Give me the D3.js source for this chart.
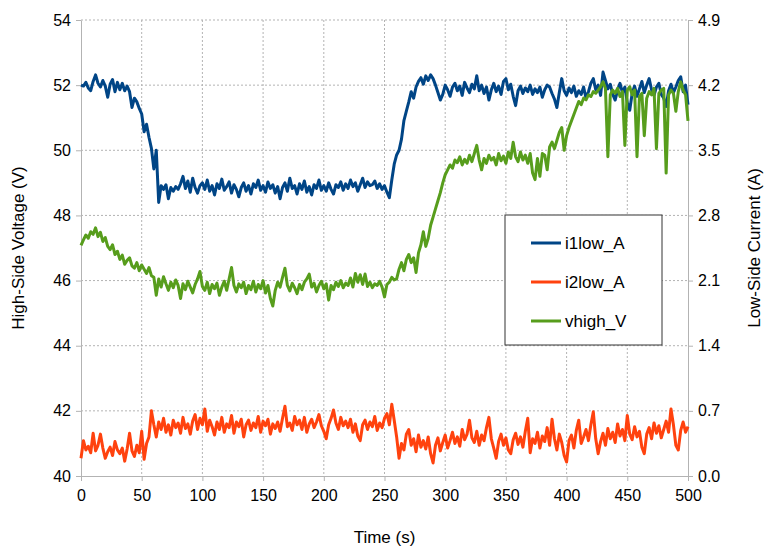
<!DOCTYPE html>
<meta charset="utf-8">
<style>
    body { margin: 0; background: #fff; }
    text { font-family: "Liberation Sans", Arial, sans-serif; fill: #000; }
    .grid line { stroke: #b3b3b3; stroke-dasharray: 2,2; }
    .axis path, .axis line { stroke: #b3b3b3; }
</style>

<svg width="764" height="549"></svg>

<script src="https://d3js.org/d3.v7.min.js"></script>

<script>
    // sample time, one reading every 2 s
    var times = d3.range(0, 501, 2);

    var i1low_A = [
        4.20, 4.19, 4.23, 4.17, 4.14, 4.24, 4.31, 4.22, 4.18, 4.25,
        4.19, 4.07, 4.21, 4.26, 4.13, 4.23, 4.15, 4.22, 4.14, 4.19,
        4.13, 3.96, 4.06, 4.02, 3.95, 3.89, 3.70, 3.78, 3.64, 3.52,
        3.30, 3.50, 2.94, 3.12, 3.08, 3.13, 2.98, 3.10, 3.06, 3.11,
        3.08, 3.14, 3.22, 3.09, 3.17, 3.05, 3.20, 3.10, 3.04, 3.12,
        3.15, 3.08, 3.18, 3.06, 3.12, 3.02, 3.14, 3.09, 3.19, 3.07,
        3.11, 3.16, 3.04, 3.13, 3.08, 3.00, 3.10, 3.15, 3.06, 3.12,
        3.03, 3.14, 3.10, 3.18, 3.07, 3.12, 3.05, 3.16, 3.09, 3.13,
        3.04, 3.11, 2.98, 3.10, 3.15, 3.06, 3.20, 3.09, 3.12, 3.03,
        3.14, 3.08, 3.17, 3.05, 3.11, 3.02, 3.13, 3.09, 3.18, 3.07,
        3.12, 3.06, 3.15, 3.08, 3.03, 3.13, 3.10, 3.16, 3.07, 3.14,
        3.09, 3.18, 3.11, 3.15, 3.06, 3.13, 3.20, 3.10, 3.16, 3.12,
        3.13, 3.17, 3.09, 3.14, 3.08, 3.12, 3.05, 2.99, 3.18, 3.35,
        3.45, 3.50, 3.62, 3.82, 3.92, 4.02, 4.13, 4.06, 4.18, 4.24,
        4.28, 4.21, 4.30, 4.25, 4.31, 4.27, 4.20, 4.12, 4.04, 4.10,
        4.20, 4.15, 4.08, 4.18, 4.22, 4.14, 4.19, 4.09, 4.23, 4.17,
        4.12, 4.21, 4.16, 4.30, 4.14, 4.20, 4.11, 4.18, 4.04, 4.15,
        4.22, 4.13, 4.19, 4.10, 4.24, 4.27, 4.15, 4.21, 4.08, 3.98,
        4.14, 4.19, 4.11, 4.17, 4.13, 4.20, 4.10, 4.16, 4.12, 4.18,
        4.07, 4.15, 4.20, 4.18, 4.11, 4.05, 3.96, 4.12, 4.27, 4.14,
        4.09, 4.17, 4.12, 4.19, 4.08, 4.14, 4.10, 4.18, 4.06, 4.13,
        4.22, 4.27, 4.15, 4.20, 4.09, 4.34, 4.25, 4.16, 4.21, 4.10,
        4.04, 4.15, 4.22, 4.12, 4.18, 4.01, 3.93, 4.11, 4.19, 4.08,
        4.16, 4.24, 4.12, 4.20, 4.27, 4.15, 4.09, 4.18, 4.22, 4.10,
        4.06, 3.97, 4.14, 4.21, 4.12, 4.18, 4.25, 4.29, 4.13, 4.20,
        3.99
    ];

    var i2low_A = [
        0.19, 0.38, 0.28, 0.32, 0.25, 0.46, 0.27, 0.33, 0.45, 0.30,
        0.19, 0.26, 0.31, 0.22, 0.37, 0.28, 0.24, 0.30, 0.16, 0.29,
        0.46, 0.27, 0.21, 0.33, 0.25, 0.48, 0.18, 0.35, 0.42, 0.70,
        0.55, 0.42, 0.58, 0.50, 0.62, 0.47, 0.55, 0.44, 0.60, 0.52,
        0.57, 0.46, 0.63, 0.51, 0.56, 0.45, 0.59, 0.66, 0.50, 0.62,
        0.55, 0.72, 0.48, 0.60, 0.53, 0.44, 0.58, 0.50, 0.63, 0.47,
        0.56, 0.52, 0.65, 0.46, 0.58, 0.53, 0.61, 0.42, 0.55, 0.60,
        0.49, 0.57, 0.52, 0.64, 0.47, 0.59, 0.54, 0.61, 0.45, 0.56,
        0.51, 0.58, 0.48, 0.62, 0.75, 0.53, 0.57, 0.49, 0.64, 0.55,
        0.60, 0.50, 0.63, 0.47, 0.56, 0.61, 0.52, 0.58, 0.66, 0.54,
        0.48, 0.40, 0.55, 0.62, 0.71, 0.57, 0.50, 0.63, 0.54, 0.59,
        0.52, 0.61, 0.47, 0.56, 0.43, 0.38, 0.55, 0.60, 0.50, 0.58,
        0.53, 0.64, 0.49, 0.57, 0.52, 0.62, 0.67, 0.55, 0.77, 0.60,
        0.42, 0.19, 0.35, 0.28, 0.45, 0.50, 0.33, 0.40, 0.26, 0.44,
        0.31, 0.38, 0.29, 0.42, 0.24, 0.14, 0.33, 0.41, 0.27, 0.36,
        0.44, 0.30, 0.38, 0.47, 0.35, 0.42, 0.32, 0.50, 0.39, 0.45,
        0.60, 0.41, 0.36, 0.48, 0.33, 0.44, 0.38, 0.52, 0.63, 0.40,
        0.30, 0.19, 0.37, 0.45, 0.33, 0.41, 0.28, 0.24, 0.39, 0.46,
        0.34, 0.42, 0.31, 0.48, 0.62, 0.25, 0.40, 0.35, 0.47, 0.30,
        0.43, 0.37, 0.52, 0.33, 0.61, 0.40, 0.28, 0.45, 0.36, 0.22,
        0.15, 0.38, 0.44, 0.30, 0.49, 0.60, 0.35, 0.42, 0.50, 0.38,
        0.55, 0.69, 0.40, 0.24, 0.37, 0.46, 0.33, 0.51, 0.40, 0.47,
        0.36, 0.56, 0.43, 0.50, 0.38, 0.65, 0.45, 0.39, 0.53, 0.42,
        0.48, 0.31, 0.24, 0.45, 0.52, 0.40, 0.57, 0.46, 0.54, 0.41,
        0.50, 0.59, 0.47, 0.72, 0.55, 0.33, 0.28, 0.49, 0.58, 0.47,
        0.53
    ];

    var vhigh_V = [
        47.08, 47.25, 47.40, 47.30, 47.50, 47.42, 47.62, 47.35, 47.48, 47.20,
        47.32, 47.05, 46.95, 47.10, 46.80, 46.90, 46.65, 46.78, 46.50, 46.62,
        46.70, 46.45, 46.38, 46.55, 46.30, 46.48, 46.35, 46.22, 46.40, 46.15,
        46.10, 45.55, 46.05, 45.80, 46.12, 45.90, 45.70, 45.95, 45.78, 46.02,
        45.85, 45.45, 45.90, 45.72, 45.98, 45.80, 45.62, 45.88, 46.05, 46.28,
        45.82, 45.70, 45.95, 45.60, 45.88, 45.75, 45.92, 45.55, 45.80, 45.98,
        45.70, 46.05, 46.40, 45.85, 45.65, 45.90, 45.78, 45.95, 45.60, 45.85,
        45.72, 45.98, 45.65, 45.88, 45.75, 46.00, 45.62, 45.85, 45.45, 45.22,
        45.70, 45.95, 45.80, 46.10, 46.38, 45.85, 45.68, 45.92, 45.78, 45.60,
        45.88, 45.72, 45.95, 46.05, 46.20, 45.80, 45.92, 45.65, 45.85, 45.98,
        45.75, 45.90, 45.40, 45.85, 45.72, 45.95, 45.82, 46.00, 45.78, 45.92,
        45.85, 46.08, 45.80, 46.22, 45.95, 46.18, 45.88, 46.20, 45.82, 45.95,
        45.78, 45.90, 45.85, 45.98, 45.80, 45.50, 45.88, 45.95, 46.10, 46.02,
        46.05, 46.35, 46.55, 46.30, 46.65, 46.80, 46.55, 46.70, 46.25, 46.85,
        47.10, 47.50, 47.05, 47.30, 47.70, 47.95, 48.20, 48.45, 48.70, 49.00,
        49.25, 49.40, 49.55, 49.45, 49.70, 49.62, 49.80, 49.55, 49.72, 49.60,
        49.85, 49.65, 49.90, 50.15, 49.70, 49.40, 49.75, 49.60, 49.85, 49.70,
        49.78, 49.55, 49.90, 49.68, 49.82, 49.60, 49.95, 49.75, 50.25, 49.80,
        49.65, 49.95, 49.70, 49.85, 49.60, 49.90, 49.30, 49.10, 49.75, 49.20,
        49.90, 49.85, 49.40, 50.10, 50.25, 50.05, 50.30, 50.55, 50.70, 50.00,
        50.45, 50.70, 50.90, 51.10, 51.30, 51.50, 51.40, 51.60, 51.55, 51.70,
        51.65, 51.80, 51.75, 51.85, 51.95, 52.10, 51.90, 49.80, 51.70, 51.85,
        51.75, 51.90, 51.65, 51.80, 50.15, 51.85, 51.95, 51.70, 51.85, 49.80,
        51.65, 51.75, 50.45, 51.60, 51.80, 51.70, 51.90, 50.05, 51.75, 51.85,
        51.90, 49.30, 51.70, 51.85, 51.75, 51.20, 51.80, 52.10, 51.85, 51.70,
        50.90
    ];

    var xTicks = d3.range(0, 501, 50);
    var leftTicks = [40, 42, 44, 46, 48, 50, 52, 54];
    var rightTicks = [0, 0.7, 1.4, 2.1, 2.8, 3.5, 4.2, 4.9];

    var series = [
        {name: "i1low_A", values: i1low_A, color: "#004586", axis: "right"},
        {name: "i2low_A", values: i2low_A, color: "#ff420e", axis: "right"},
        {name: "vhigh_V", values: vhigh_V, color: "#579d1c", axis: "left"}
    ];

    var svg = d3.select("svg"),
        margin = {top: 20, right: 76, bottom: 73, left: 81},
        width = +svg.attr("width") - margin.left - margin.right,
        height = +svg.attr("height") - margin.top - margin.bottom;

    var g = svg.append("g").attr("transform", "translate(" + margin.left + "," + margin.top + ")");

    var x = d3.scaleLinear().domain([0, 500]).range([0, width]);
    var yL = d3.scaleLinear().domain([40, 54]).range([height, 0]);
    var yR = d3.scaleLinear().domain([0, 4.9]).range([height, 0]);

    // grid
    g.append("g").attr("class", "grid")
        .selectAll("line.v").data(xTicks.slice(1, -1)).enter().append("line")
        .attr("x1", function (d) { return x(d); }).attr("x2", function (d) { return x(d); })
        .attr("y1", 0).attr("y2", height);
    g.append("g").attr("class", "grid")
        .selectAll("line.h").data(leftTicks.slice(1)).enter().append("line")
        .attr("x1", 0).attr("x2", width)
        .attr("y1", function (d) { return yL(d); }).attr("y2", function (d) { return yL(d); });

    // axes
    var xAxis = g.append("g").attr("class", "axis")
        .attr("transform", "translate(0," + height + ")")
        .call(d3.axisBottom(x).tickValues(xTicks).tickSize(5).tickSizeOuter(0).tickPadding(6));
    var lAxis = g.append("g").attr("class", "axis")
        .call(d3.axisLeft(yL).tickValues(leftTicks).tickSize(5).tickSizeOuter(0).tickPadding(5));
    var rAxis = g.append("g").attr("class", "axis")
        .attr("transform", "translate(" + width + ",0)")
        .call(d3.axisRight(yR).tickValues(rightTicks).tickFormat(d3.format(".1f")).tickSize(5).tickSizeOuter(0).tickPadding(5));

    g.selectAll(".axis text").style("font-size", "16px").style("fill", "#000");
    xAxis.selectAll("text").attr("dy", "0.9em");

    // lines
    series.forEach(function (s) {
        var yS = s.axis === "left" ? yL : yR;
        var line = d3.line()
            .x(function (d, i) { return x(times[i]); })
            .y(function (d) { return yS(d); });
        g.append("path")
            .datum(s.values)
            .attr("fill", "none")
            .attr("stroke", s.color)
            .attr("stroke-width", 3)
            .attr("stroke-linejoin", "round")
            .attr("d", line);
    });

    // axis titles
    svg.append("text")
        .attr("transform", "translate(24," + (margin.top + height / 2) + ") rotate(-90)")
        .attr("text-anchor", "middle")
        .style("font-size", "17px")
        .text("High-Side Voltage (V)");
    svg.append("text")
        .attr("transform", "translate(760," + (margin.top + height / 2) + ") rotate(-90)")
        .attr("text-anchor", "middle")
        .style("font-size", "17px")
        .text("Low-Side Current (A)");
    svg.append("text")
        .attr("x", margin.left + width / 2)
        .attr("y", 543)
        .attr("text-anchor", "middle")
        .style("font-size", "17px")
        .text("Time (s)");

    // legend
    var legend = svg.append("g").attr("transform", "translate(505,215)");
    legend.append("rect")
        .attr("width", 157).attr("height", 130)
        .attr("fill", "#fff").attr("stroke", "#333").attr("stroke-width", 1);
    var item = legend.selectAll("g.item").data(series).enter().append("g")
        .attr("transform", function (d, i) { return "translate(0," + (28 + i * 39) + ")"; });
    item.append("line")
        .attr("x1", 26).attr("x2", 56).attr("y1", 0).attr("y2", 0)
        .attr("stroke", function (d) { return d.color; })
        .attr("stroke-width", 3);
    item.append("text")
        .attr("x", 60).attr("dy", "0.35em")
        .style("font-size", "17px")
        .text(function (d) { return d.name; });
</script>
